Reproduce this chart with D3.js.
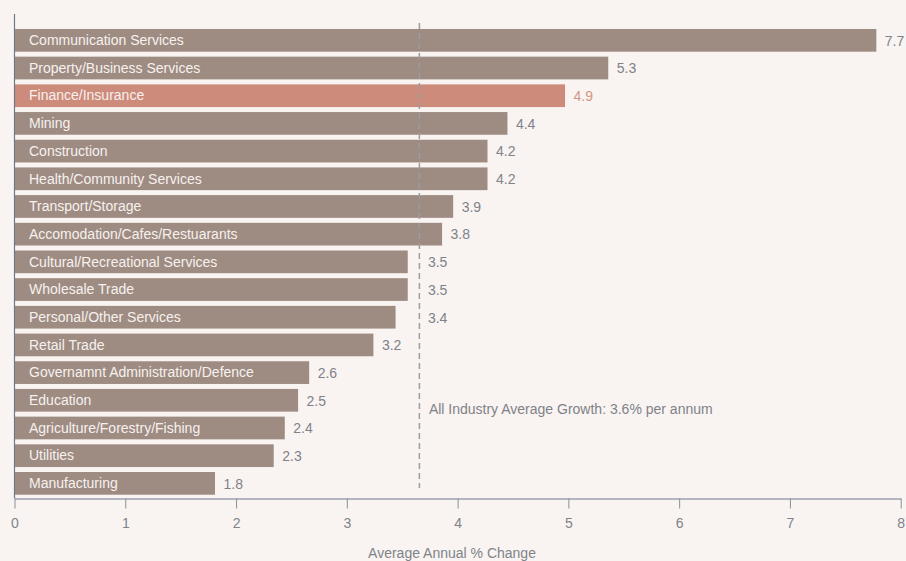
<!DOCTYPE html>
<html>
<head>
<meta charset="utf-8">
<script src="https://cdn.jsdelivr.net/npm/d3@7"></script>
<style>
  body { margin: 0; background: #f9f4f1; }
  svg { display: block; font-family: "Liberation Sans", Arial, Helvetica, sans-serif; }
</style>
</head>
<body>
<div class="chart"></div>
<script>
const width = 906, height = 561;

// industries, top to bottom
const industries = [
    "Communication Services", "Property/Business Services", "Finance/Insurance", "Mining",
    "Construction", "Health/Community Services", "Transport/Storage",
    "Accomodation/Cafes/Restuarants", "Cultural/Recreational Services", "Wholesale Trade",
    "Personal/Other Services", "Retail Trade", "Governamnt Administration/Defence",
    "Education", "Agriculture/Forestry/Fishing", "Utilities", "Manufacturing"
];
// average annual % change
const growth = [7.78, 5.36, 4.97, 4.45, 4.27, 4.27, 3.96, 3.86, 3.55, 3.55, 3.44, 3.24, 2.66, 2.56, 2.44, 2.34, 1.81];
const highlighted = ["Finance/Insurance"];
const averageGrowth = 3.655;
const xTicks = [0, 1, 2, 3, 4, 5, 6, 7, 8];

const data = industries.map((name, i) => ({ name: name, value: growth[i] }));

// labels show the value cut to one decimal
const fmt = v => (Math.floor(v * 10 + 1e-9) / 10).toFixed(1);

let x = d3.scaleLinear().domain([0, 8]).range([14.5, 900.7]);
let y = d3.scaleBand().domain(industries).range([24, 499.7]).paddingInner(0.18).paddingOuter(0.18);

const svg = d3.select(".chart").append("svg")
    .attr("width", width)
    .attr("height", height);

svg.append("rect").attr("width", width).attr("height", height).attr("fill", "#f9f4f1");

// bars
svg.append("g").selectAll("rect").data(data).enter()
    .append("rect")
        .attr("x", x(0))
        .attr("y", d => y(d.name))
        .attr("width", d => x(d.value) - x(0))
        .attr("height", y.bandwidth())
        .attr("fill", d => highlighted.includes(d.name) ? "#cd8b7c" : "#9e8c83");

// names inside bars
svg.append("g").selectAll("text").data(data).enter()
    .append("text")
        .attr("x", x(0) + 14.5)
        .attr("y", d => y(d.name) + y.bandwidth() / 2)
        .attr("dy", "0.34em")
        .attr("font-size", 14)
        .attr("fill", "#f7f1ee")
        .text(d => d.name);

// average line
svg.append("line")
    .attr("x1", x(averageGrowth)).attr("x2", x(averageGrowth))
    .attr("y1", 23).attr("y2", 488)
    .attr("stroke", "#9c9c9e")
    .attr("stroke-width", 1.5)
    .attr("stroke-dasharray", "6,4");

// values after bars; a label that would sit on the average line goes just past it
function labelX(v) {
    const lx = x(v) + 8.5, xa = x(averageGrowth);
    if (lx < xa && lx + 24 > xa) return xa + 8.5;
    return lx;
}
svg.append("g").selectAll("text").data(data).enter()
    .append("text")
        .attr("x", d => labelX(d.value))
        .attr("y", d => y(d.name) + y.bandwidth() / 2)
        .attr("dy", "0.38em")
        .attr("font-size", 14)
        .attr("fill", d => highlighted.includes(d.name) ? "#d69585" : "#7f8289")
        .text(d => fmt(d.value));

svg.append("text")
    .attr("x", x(averageGrowth) + 9.5)
    .attr("y", 414)
    .attr("font-size", 14)
    .attr("fill", "#7f8289")
    .text("All Industry Average Growth: " + fmt(averageGrowth) + "% per annum");

// y axis line
svg.append("line")
    .attr("x1", x(0)).attr("x2", x(0))
    .attr("y1", 14).attr("y2", 498.5)
    .attr("stroke", "#6f7888")
    .attr("stroke-width", 1.2);

// x axis
let bottomAxis = d3.axisBottom(x).tickValues(xTicks).tickSize(10).tickPadding(10).tickSizeOuter(0);
const gx = svg.append("g")
    .attr("transform", "translate(0,498.5)")
    .call(bottomAxis);
gx.select(".domain").attr("stroke", "#6f7888").attr("stroke-width", 1.2);
gx.selectAll(".tick line").attr("stroke", "#8a8f99");
gx.selectAll(".tick text")
    .attr("font-size", 14)
    .attr("font-family", "Liberation Sans, Arial, sans-serif")
    .attr("fill", "#808389");

svg.append("text")
    .attr("x", width / 2 - 1)
    .attr("y", 558)
    .attr("text-anchor", "middle")
    .attr("font-size", 14)
    .attr("fill", "#808389")
    .text("Average Annual % Change");
</script>
</body>
</html>
